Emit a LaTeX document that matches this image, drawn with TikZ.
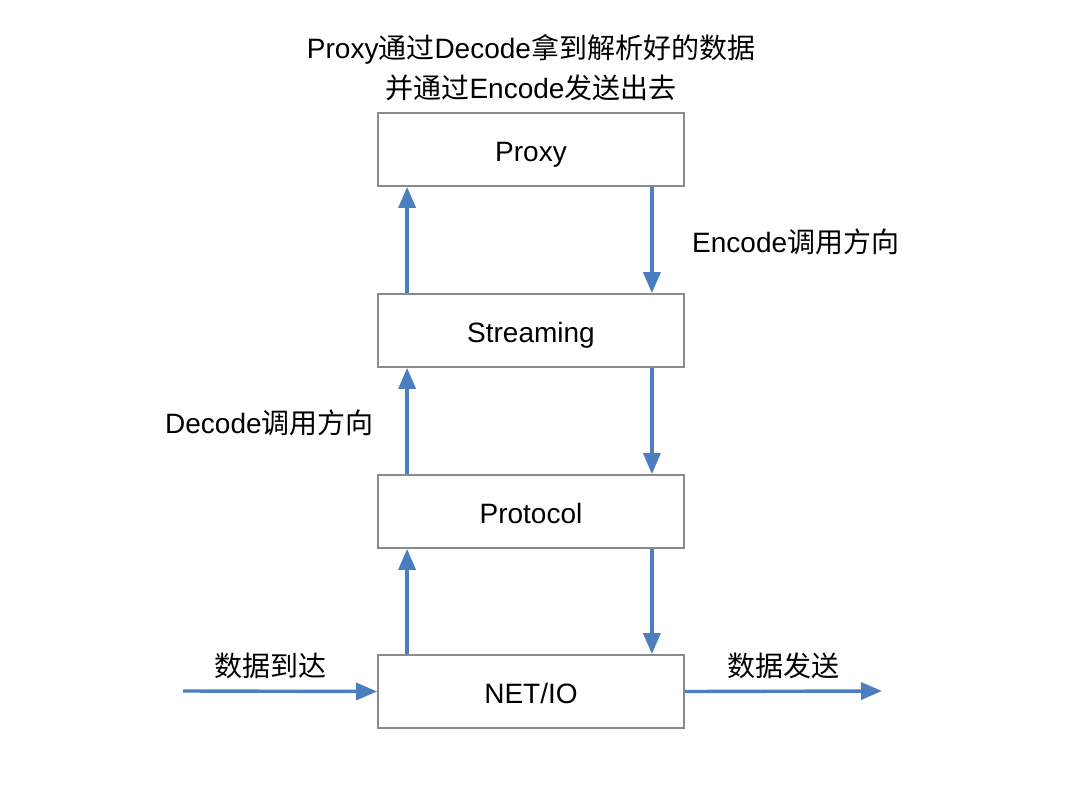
\documentclass[tikz,border=0pt]{standalone}
\usepackage{fontspec}
\setmainfont{Liberation Sans}
\newfontfamily\cjk{Noto Sans CJK SC}
\usetikzlibrary{arrows.meta}
\definecolor{arrowblue}{HTML}{4A7EBF}
\definecolor{boxgray}{HTML}{8A8A8A}
\tikzset{
  layer/.style={draw=boxgray, line width=1.8pt, minimum width=306pt, minimum height=73pt, inner sep=0pt, text height=24pt, text depth=0pt, font=\fontsize{28}{32}\selectfont},
  flow/.style={draw=arrowblue, line width=3.4pt, -{Triangle[length=21pt,width=17pt]}},
  lbl/.style={font=\fontsize{28}{32}\selectfont, inner sep=0pt},
}
\begin{document}
\begin{tikzpicture}[x=1pt,y=-1pt]
\useasboundingbox[fill=white] (0,0) rectangle (1080,811);
\node[layer] (proxy) at (531,149.5) {Proxy};
\node[layer] (stream) at (531,330.5) {Streaming};
\node[layer] (proto) at (531,511.5) {Protocol};
\node[layer] (net) at (531,691.5) {NET/IO};
\node[lbl] (title1) at (531,49) {Proxy{\cjk 通过}Decode{\cjk 拿到解析好的数据}};
\node[lbl] (title2) at (531,88) {{\cjk 并通过}Encode{\cjk 发送出去}};
\node[lbl, anchor=west] (enc) at (692,242) {Encode{\cjk 调用方向}};
\node[lbl, anchor=west] (dec) at (165,423) {Decode{\cjk 调用方向}};
\node[lbl] (arrive) at (270,666) {\cjk 数据到达};
\node[lbl] (send) at (783,666) {\cjk 数据发送};
\coordinate (in) at (183,691);
\coordinate (out) at (882,691);
% up arrows (decode)
\draw[flow] (net.south west |- net.north) ++(30,0) coordinate (u1) -- (u1 |- proto.south);
\draw[flow] (proto.north west) ++(30,0) coordinate (u2) -- (u2 |- stream.south);
\draw[flow] (stream.north west) ++(30,0) coordinate (u3) -- (u3 |- proxy.south);
% down arrows (encode)
\draw[flow] (proxy.south east) ++(-33,0) coordinate (d1) -- (d1 |- stream.north);
\draw[flow] (stream.south east) ++(-33,0) coordinate (d2) -- (d2 |- proto.north);
\draw[flow] (proto.south east) ++(-33,0) coordinate (d3) -- (d3 |- net.north);
% in / out
\draw[flow] (in) -- (net.west);
\draw[flow] (net.east) -- (out);
\end{tikzpicture}
\end{document}
